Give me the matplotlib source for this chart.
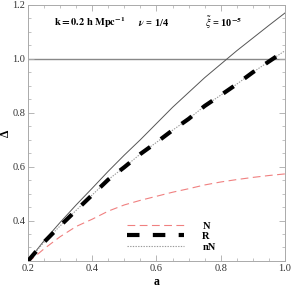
import matplotlib
matplotlib.use("Agg")
import matplotlib.pyplot as plt
from matplotlib.ticker import MultipleLocator

a_vals = [0.2, 0.25, 0.3, 0.35, 0.4, 0.45, 0.5, 0.55, 0.6, 0.65, 0.7, 0.75, 0.8, 0.85, 0.9, 0.95, 1.0]
delta_full = [0.25, 0.325, 0.393, 0.458, 0.52, 0.583, 0.643, 0.70, 0.76, 0.82, 0.875, 0.93, 0.98, 1.03, 1.077, 1.124, 1.17]
delta_N = [0.245, 0.295, 0.34, 0.378, 0.405, 0.435, 0.458, 0.475, 0.49, 0.505, 0.518, 0.532, 0.543, 0.552, 0.56, 0.567, 0.573]
delta_R = [0.25, 0.32, 0.38, 0.438, 0.495, 0.552, 0.598, 0.647, 0.69, 0.735, 0.777, 0.825, 0.865, 0.906, 0.95, 0.99, 1.03]
delta_nN = [0.25, 0.32, 0.38, 0.438, 0.495, 0.552, 0.598, 0.647, 0.69, 0.735, 0.777, 0.825, 0.865, 0.906, 0.95, 0.99, 1.03]
ref_level = 1.0

plt.rcParams['font.family'] = ['Liberation Serif', 'DejaVu Serif']
plt.rcParams['mathtext.fontset'] = 'stix'

fig = plt.figure(figsize=(2.91, 2.89), dpi=100)
ax = fig.add_axes([0.0962, 0.097, 0.883, 0.886])

ax.axhline(ref_level, color='#888888', lw=1.0, zorder=1)
ax.plot(a_vals, delta_full, color='#555555', lw=0.7, zorder=2)
l_N, = ax.plot(a_vals, delta_N, color='#f08080', lw=0.8, dashes=(7, 4), label='N', zorder=2)
l_nN, = ax.plot(a_vals, delta_nN, color='#999999', lw=0.8, dashes=(1.2, 1.2), label='nN', zorder=2)
l_R, = ax.plot(a_vals, delta_R, color='black', lw=3.0, dashes=(3, 3.2), label='R', zorder=3)

ax.set_xlim(0.2, 1.0)
ax.set_ylim(0.25, 1.2)
ax.xaxis.set_minor_locator(MultipleLocator(0.05))
ax.yaxis.set_minor_locator(MultipleLocator(0.05))
ax.set_xticks([0.2, 0.4, 0.6, 0.8, 1.0])
ax.set_xticklabels(['0.2', '0.4', '0.6', '0.8', '1.0'])
ax.set_yticks([0.4, 0.6, 0.8, 1.0, 1.2])
ax.set_yticklabels(['0.4', '0.6', '0.8', '1.0', '1.2'])
ax.tick_params(which='both', direction='in', top=True, right=True, color='#aaaaaa', labelsize=7.5, pad=2, labelcolor='#333333')
ax.tick_params(which='major', length=4, width=0.6)
ax.tick_params(which='minor', length=2, width=0.5)
for s in ax.spines.values():
    s.set_color('#aaaaaa')
    s.set_linewidth(0.7)

ax.set_xlabel('a', fontsize=8.5, fontweight='bold', labelpad=2)
ax.set_ylabel('Δ', fontsize=8.5, fontweight='bold', labelpad=0.5)

ax.text(0.1, 0.93, r'$\mathbf{k = 0.2\ h\ Mpc^{-1}}$', transform=ax.transAxes, fontsize=7.5, va='center')
ax.text(0.43, 0.93, r'$\boldsymbol{\nu}$ = 1/4', transform=ax.transAxes, fontsize=7.5, va='center', fontweight='bold')
ax.text(0.69, 0.93, r'$\boldsymbol{\tilde{\xi}}$ = 10$^{\mathbf{-5}}$', transform=ax.transAxes, fontsize=7.5, va='center', fontweight='bold')

leg = ax.legend(handles=[l_N, l_R, l_nN], loc='lower left', bbox_to_anchor=(0.35, 0.0), frameon=False,
                handlelength=5.4, handletextpad=1.8, labelspacing=0.12, prop={'weight': 'bold', 'size': 7.5})

fig.savefig('out.png', dpi=100)
